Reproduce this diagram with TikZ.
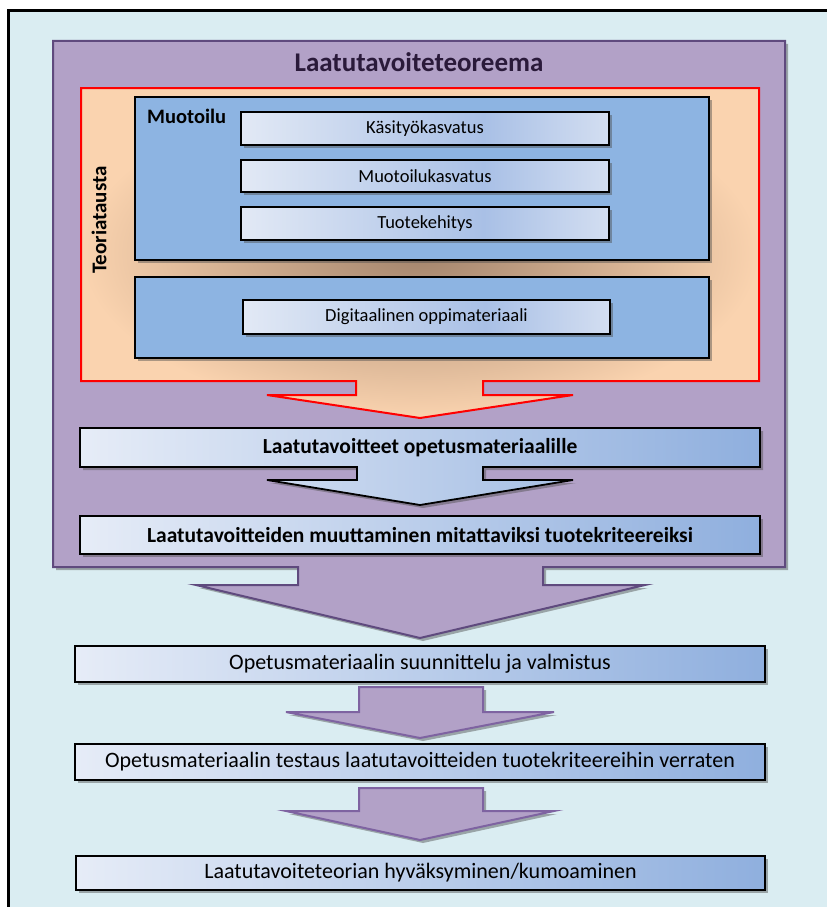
\documentclass[tikz,border=0pt]{standalone}
\usepackage{fontspec}
\setmainfont{Carlito}
\usetikzlibrary{shadows}
\definecolor{bgblue}{HTML}{DAEDF2}
\definecolor{purfill}{HTML}{B2A1C7}
\definecolor{purline}{HTML}{5F4A7E}
\definecolor{arrline}{HTML}{7E63A1}
\definecolor{peach}{HTML}{FAD3AF}
\definecolor{brownc}{HTML}{A3846C}
\definecolor{midblue}{HTML}{8DB4E2}
\definecolor{gradl}{HTML}{E6ECF7}
\definecolor{gradr}{HTML}{8FAFDE}
\definecolor{subl}{HTML}{E2E9F5}
\definecolor{subm}{HTML}{A9C0E6}
\definecolor{subr}{HTML}{D3DEF1}
\definecolor{titlec}{HTML}{2A1A3A}
\pgfdeclarehorizontalshading{subshade}{100bp}{color(0bp)=(subl); color(25bp)=(subl); color(58bp)=(subm); color(75bp)=(subr); color(100bp)=(subr)}
\tikzset{
  shad/.style={drop shadow={shadow xshift=3pt,shadow yshift=-3pt,opacity=0.45,fill=black!70}},
  bluebox/.style={draw=black,line width=1.8pt,fill=midblue,shad},
  gradbox/.style={draw=black,line width=1.8pt,left color=gradl,right color=gradr,shad,inner sep=0pt},
  boldtxt/.style={font=\bfseries\fontsize{21.5}{24}\selectfont},
  regtxt/.style={font=\fontsize{22}{24}\selectfont},
  subbox/.style={draw=black,line width=1.8pt,shading=subshade,shad,
     minimum width=368pt,font=\fontsize{18.5}{20}\selectfont,inner sep=0pt},
  purarrow/.style={draw=arrline,line width=2pt,fill=purfill,line join=miter,shad},
  lbl/.style={font=\bfseries\fontsize{21}{24}\selectfont,inner sep=0pt}
}
\begin{document}
\begin{tikzpicture}[x=1pt,y=-1pt]
\useasboundingbox (0,0) rectangle (827,907);
% background and frame
\fill[bgblue] (9,12) rectangle (827,907);
\draw[line width=3pt] (8,907) -- (8,11) -- (827,11);
% purple container with arrow
\path[purarrow,draw=purline] (53,41) -- (785,41) -- (785,567) -- (543,567) -- (543,585) -- (645,585)
  -- (420,638) -- (196,585) -- (298,585) -- (298,567) -- (53,567) -- cycle;
\node[font=\bfseries\fontsize{27}{30}\selectfont,text=titlec] (title) at (419,62) {Laatutavoiteteoreema};
% orange theory box with arrow
\path[draw=red,line width=2pt,shading=radial,inner color=brownc,outer color=peach,line join=miter]
  (81,88) -- (759,88) -- (759,381) -- (483,381) -- (483,395) -- (573,395) -- (420,418)
  -- (267,395) -- (356,395) -- (356,381) -- (81,381) -- cycle;
\node[rotate=90,lbl] (teoria) at (99,220) {Teoriatausta};
% blue boxes
\node[bluebox,minimum width=574pt,minimum height=163pt] (muot) at (422,178.5) {};
\node[lbl,font=\bfseries\fontsize{20.5}{24}\selectfont,anchor=west] (muotl) at (147,116) {Muotoilu};
\node[subbox,minimum height=33pt] (kasi) at (425,128.5) {Käsityökasvatus};
\node[subbox,minimum height=32pt] (muotk) at (425,176) {Muotoilukasvatus};
\node[subbox,minimum height=33pt] (tuote) at (425,223.5) {Tuotekehitys};
\node[bluebox,minimum width=574pt,minimum height=81pt] (dig) at (422,317.5) {};
\node[subbox,minimum width=367pt,minimum height=34pt] (digi) at (426.5,317) {Digitaalinen oppimateriaali};
% quality goals box with arrow
\path[draw=black,line width=1.8pt,left color=gradl,right color=gradr,line join=miter,shad]
  (80,428) -- (760,428) -- (760,467) -- (483,467) -- (483,480) -- (573,480) -- (420,505)
  -- (267,480) -- (357,480) -- (357,467) -- (80,467) -- cycle;
\node[boldtxt,inner sep=0pt] (laat) at (420,447.5) {Laatutavoitteet opetusmateriaalille};
\node[gradbox,boldtxt,minimum width=680pt,minimum height=38pt] (muut) at (420,535) {Laatutavoitteiden muuttaminen mitattaviksi tuotekriteereiksi};
% lower chain
\node[gradbox,regtxt,minimum width=690pt,minimum height=36pt] (suun) at (420,664) {Opetusmateriaalin suunnittelu ja valmistus};
\path[purarrow] (359,687) -- (483,687) -- (483,712) -- (554,712) -- (420,738) -- (286,712) -- (359,712) -- cycle;
\node[gradbox,regtxt,minimum width=690pt,minimum height=36pt] (test) at (420,762) {Opetusmateriaalin testaus laatutavoitteiden tuotekriteereihin verraten};
\path[purarrow] (359,788) -- (483,788) -- (483,811) -- (554,811) -- (420,840) -- (286,811) -- (359,811) -- cycle;
\node[gradbox,regtxt,minimum width=689pt,minimum height=34pt] (hyva) at (420.5,873) {Laatutavoiteteorian hyväksyminen/kumoaminen};
\end{tikzpicture}
\end{document}
